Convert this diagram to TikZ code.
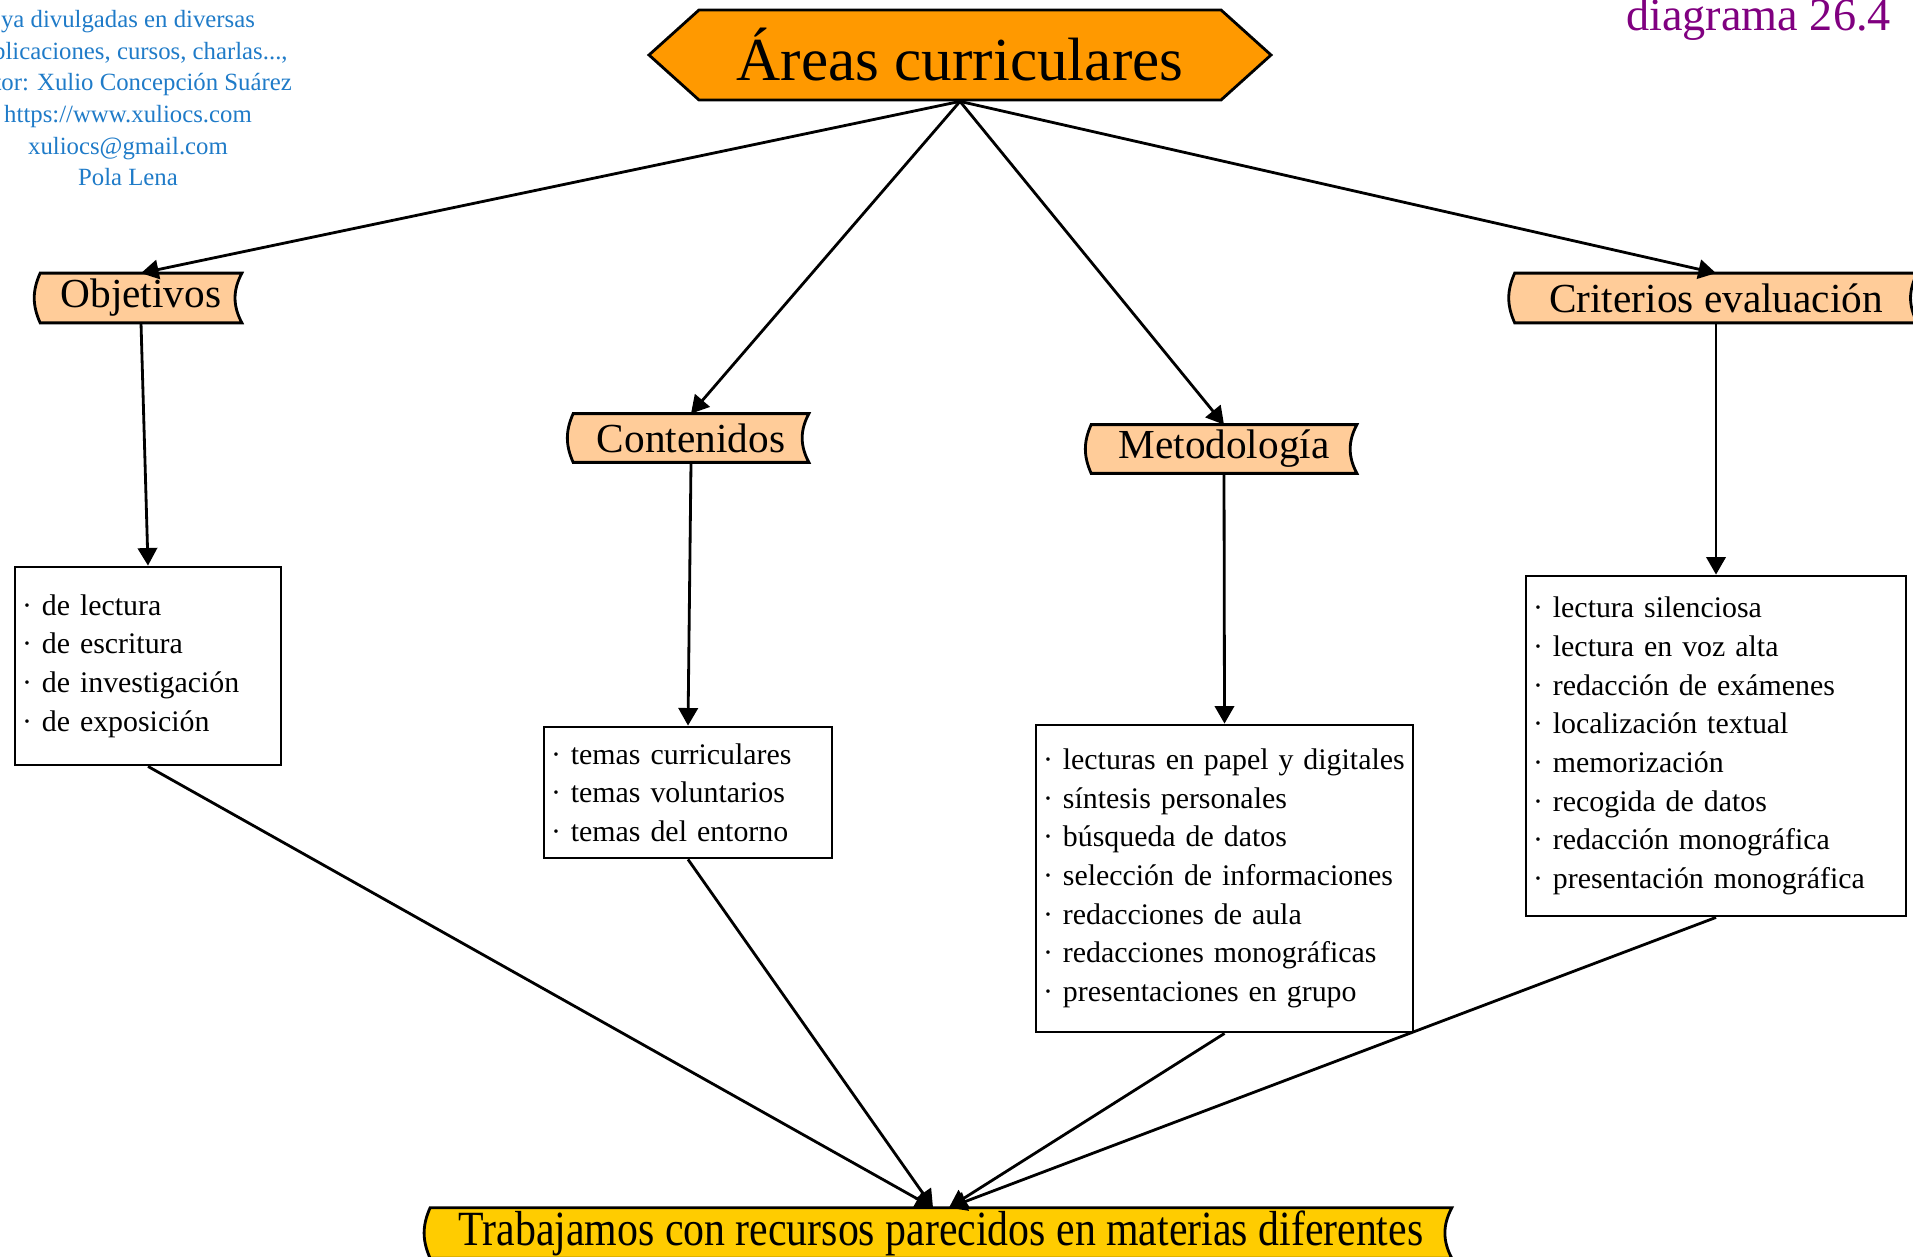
\documentclass[tikz,border=0pt]{standalone}
\usepackage{fontspec}
\setmainfont{Liberation Serif}
\usetikzlibrary{arrows.meta,shapes.symbols}
\definecolor{naranja}{HTML}{FF9900}
\definecolor{melocoton}{HTML}{FFCC99}
\definecolor{amarillo}{HTML}{FFCC00}
\definecolor{azul}{HTML}{1F7BC8}
\definecolor{morado}{HTML}{800080}
\pgfdeclarelayer{fondo}
\pgfsetlayers{fondo,main}
\tikzset{
  borde/.style={draw=black,line width=1.6pt},
  flecha/.style={line width=1.6pt,-{Triangle[length=10pt,width=11pt]}},
  titulo/.style={borde,fill=naranja,signal,signal to=west and east,signal pointer angle=84,
    minimum width=12.44cm,minimum height=1.8cm,font=\fontsize{34.8}{40}\selectfont},
  cinta/.style={inner sep=0pt,font=\fontsize{23.5}{28}\selectfont},
  caja/.style={borde,fill=white,align=left,inner xsep=4pt,font=\fontsize{17}{22}\selectfont}
}
% cinta: lado izquierdo y derecho curvados
\newcommand{\fondocinta}[2]{%
  \begin{pgfonlayer}{fondo}
    \draw[borde,fill=#2] (#1.north west) to[bend right=24] (#1.south west)
      -- (#1.south east) to[bend left=28] (#1.north east) -- cycle;
  \end{pgfonlayer}}

\begin{document}
\begin{tikzpicture}
\useasboundingbox (0,0) rectangle (38.26,-25.12); % margenes de la pagina

% cabecera
\node[azul,anchor=north,align=center,inner sep=0pt,font=\fontsize{14.1}{18}\selectfont] (autor) at (2.56,-0.2)
  {ya divulgadas en diversas\\ publicaciones, cursos, charlas...,\\ Autor: Xulio Concepción Suárez\\
   https://www.xuliocs.com\\ xuliocs@gmail.com\\ Pola Lena};
\node[morado,anchor=base west,inner sep=0pt,font=\fontsize{26.3}{30}\selectfont] (numero) at (32.52,-0.62) {diagrama 26.4};

\node[titulo] (areas) at (19.2,-1.1) {Áreas curriculares}; % titulo

% cintas de las areas
\node[cinta,minimum width=4.02cm,minimum height=0.98cm] (objetivos) at (2.82,-5.96) {Objetivos};
\node[cinta,minimum width=4.7cm,minimum height=0.96cm] (contenidos) at (13.82,-8.76) {Contenidos};
\node[cinta,minimum width=5.3cm,minimum height=0.96cm] (metodologia) at (24.48,-8.98) {Metodología};
\node[cinta,minimum width=8.04cm,minimum height=0.98cm] (criterios) at (34.32,-5.96) {Criterios evaluación};

% listas
\node[caja,text width=5.04cm,minimum height=3.96cm] (objlista) at (2.96,-13.32)
  {· de lectura\\ · de escritura\\ · de investigación\\ · de exposición};
\node[caja,text width=5.48cm,minimum height=2.62cm] (contlista) at (13.76,-15.85)
  {· temas curriculares\\ · temas voluntarios\\ · temas del entorno};
\node[caja,text width=7.26cm,minimum height=6.14cm] (metlista) at (24.49,-17.57)
  {· lecturas en papel y digitales\\ · síntesis personales\\ · búsqueda de datos\\ · selección de informaciones\\
   · redacciones de aula\\ · redacciones monográficas\\ · presentaciones en grupo};
\node[caja,text width=7.32cm,minimum height=6.8cm] (critlista) at (34.32,-14.92)
  {· lectura silenciosa\\ · lectura en voz alta\\ · redacción de exámenes\\ · localización textual\\
   · memorización\\ · recogida de datos\\ · redacción monográfica\\ · presentación monográfica};

% conclusion
\node[cinta,minimum width=20.42cm,minimum height=1.0cm,font=\fontsize{28}{32}\selectfont] (fin) at (18.82,-24.66)
  {\scalebox{0.85}[1]{Trabajamos con recursos parecidos en materias diferentes}};
\coordinate (llegadaA) at ([xshift=-0.16cm]fin.north); % llegada izquierda
\coordinate (llegadaB) at ([xshift=0.16cm]fin.north); % llegada derecha

\fondocinta{objetivos}{melocoton}
\fondocinta{contenidos}{melocoton}
\fondocinta{metodologia}{melocoton}
\fondocinta{criterios}{melocoton}
\fondocinta{fin}{amarillo}

% flechas
\draw[flecha] (areas.south) -- (objetivos.north);
\draw[flecha] (areas.south) -- (contenidos.north);
\draw[flecha] (areas.south) -- (metodologia.north);
\draw[flecha] (areas.south) -- (criterios.north);
\draw[flecha] (objetivos.south) -- (objlista.north);
\draw[flecha] (contenidos.south) -- (contlista.north);
\draw[flecha] (metodologia.south) -- (metlista.north);
\draw[flecha] (criterios.south) -- (critlista.north);
\draw[flecha] (objlista.south) -- (llegadaA);
\draw[flecha] (contlista.south) -- (llegadaA);
\draw[flecha] (metlista.south) -- (llegadaB);
\draw[flecha] (critlista.south) -- (llegadaB);
\end{tikzpicture}
\end{document}
